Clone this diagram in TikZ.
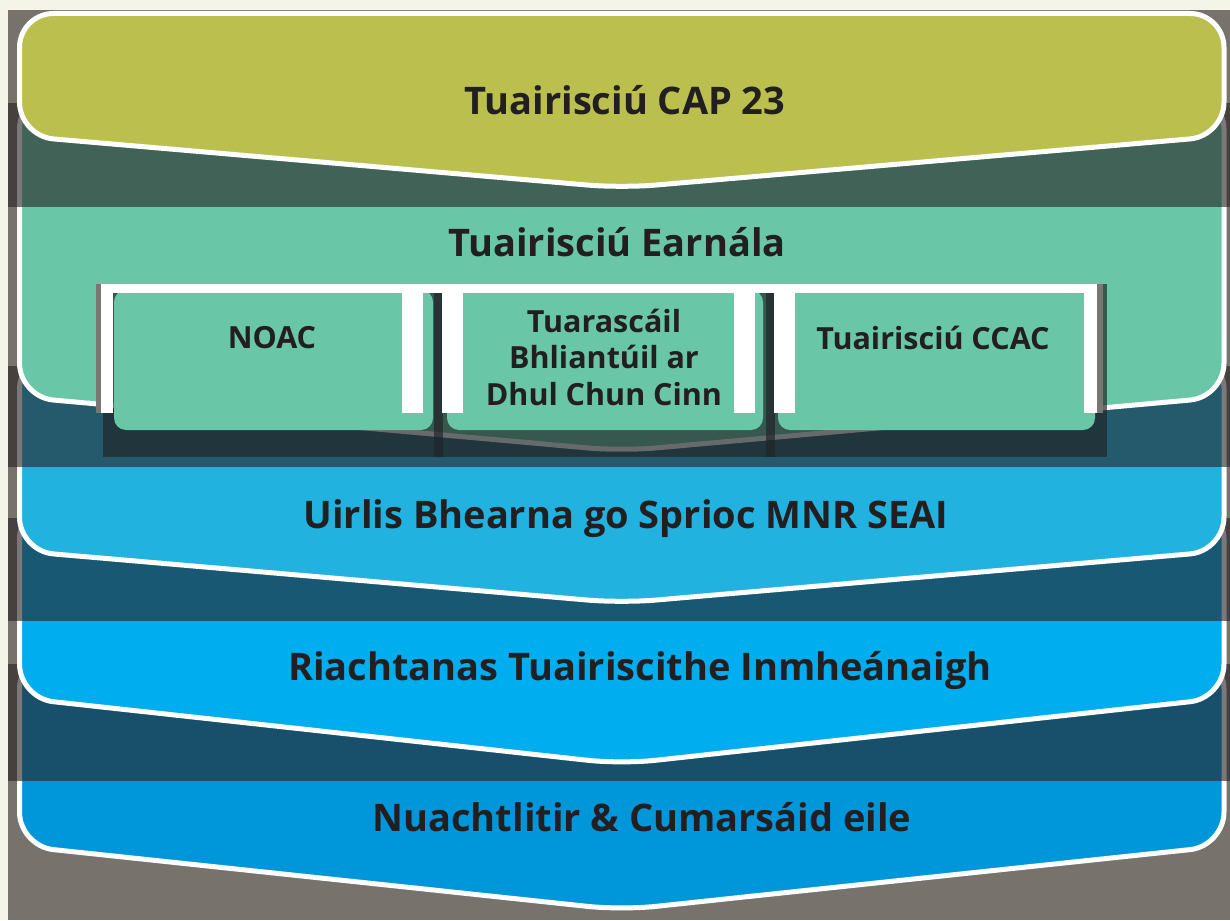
\documentclass[tikz,border=0pt]{standalone}
\usepackage{fontspec}
\setmainfont{Open Sans}
\definecolor{cream}{HTML}{F4F4E8}
\definecolor{bggray}{HTML}{77726C}
\definecolor{cone}{HTML}{BBBF4E}
\definecolor{ctwo}{HTML}{69C6A6}
\definecolor{cthree}{HTML}{22B2DF}
\definecolor{cfour}{HTML}{00ADEE}
\definecolor{cfive}{HTML}{0096DA}
\definecolor{bandc}{HTML}{282324}
\definecolor{shadc}{HTML}{202426}
\definecolor{txt}{HTML}{231F20}
\definecolor{barg}{HTML}{7A7676}
\newcommand\chevshape[4]{\path[chev, fill=#4] (620,#1) -- (1224,#1) -- (1224,#2) -- (621.75,#3) -- (19.5,#2) -- (19.5,#1) -- cycle;}
\begin{document}
\begin{tikzpicture}[x=1pt,y=-1pt,
  chev/.style={draw=white, line width=5pt, rounded corners=34pt},
  band/.style={fill=bandc, fill opacity=0.61},
  shad/.style={fill=shadc, fill opacity=0.68},
  title/.style={font=\fontsize{38}{44}\selectfont\bfseries, text=txt, anchor=center, inner sep=0pt},
  subtext/.style={font=\fontsize{30.5}{36.5}\selectfont\bfseries, text=txt, align=center, inner sep=0pt},
  subbox/.style={fill=ctwo, rounded corners=12pt},
  wbar/.style={fill=white},
  gbar/.style={fill=barg}
]
\useasboundingbox (0,0) rectangle (1230,920);
\fill[cream] (0,0) rectangle (1230,920);
\fill[bggray] (8,10) rectangle (1230,920);
% chevron 5
\chevshape{655}{846}{910}{cfive}
\node[title] (t5) at (642,817) {Nuachtlitir \& Cumarsáid eile};
\fill[band] (8,664) rectangle (1230,781);
% chevron 4
\chevshape{505}{698}{764}{cfour}
\node[title] (t4) at (640,670) {Riachtanas Tuairiscithe Inmheánaigh};
\fill[band] (8,518) rectangle (1230,621);
% chevron 3
\chevshape{355}{551}{603}{cthree}
\node[title] (t3) at (626,519) {Uirlis Bhearna go Sprioc MNR SEAI};
\fill[band] (8,366) rectangle (1230,467);
% chevron 2
\chevshape{95}{397}{451}{ctwo}
\node[title] (t2) at (617,242) {Tuairisciú Earnála};
\fill[band] (8,103) rectangle (1230,207);
% chevron 1
\chevshape{13.5}{136}{188}{cone}
\node[title] (t1) at (625,100) {Tuairisciú CAP 23};
% sub boxes
\fill[shad] (103,284) rectangle (443,457);
\fill[shad] (434,284) rectangle (775,457);
\fill[shad] (766,284) rectangle (1107,457);
\fill[subbox] (114,290) rectangle (433,430);
\fill[subbox] (447,290) rectangle (763,430);
\fill[subbox] (778,290) rectangle (1095,430);
\fill[wbar] (101,284) rectangle (1097,293);
\fill[gbar] (96,284) rectangle (101,413);
\fill[wbar] (101,284) rectangle (113,413);
\fill[wbar] (402,293) rectangle (423,413);
\fill[wbar] (442,293) rectangle (463,413);
\fill[wbar] (734,293) rectangle (755,413);
\fill[wbar] (774,293) rectangle (795,413);
\fill[wbar] (1084,293) rectangle (1097,413);
\fill[gbar] (1097,284) rectangle (1103,413);
\node[subtext] (s1) at (272,338) {NOAC};
\node[subtext] (s2) at (604,357) {Tuarascáil\\Bhliantúil ar\\Dhul Chun Cinn};
\node[subtext] (s3) at (933,338) {Tuairisciú CCAC};
\end{tikzpicture}
\end{document}
